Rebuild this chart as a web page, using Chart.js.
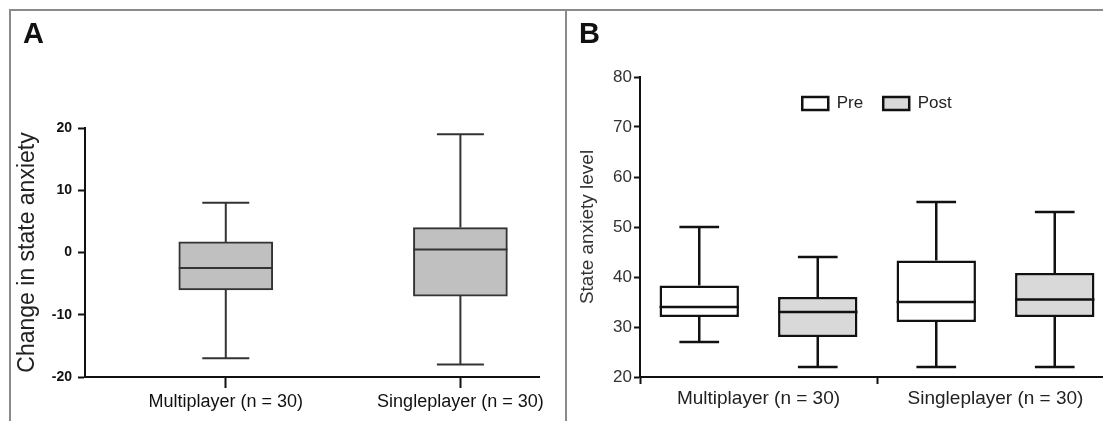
<!DOCTYPE html>
<html>
<head>
<meta charset="utf-8">
<script src="https://cdn.jsdelivr.net/npm/chart.js@4.4.0/dist/chart.umd.min.js"></script>
<style>
  html, body { margin: 0; padding: 0; background: #fff; overflow: hidden; width: 1103px; height: 421px; }
  .frame { position: absolute; left: 9px; top: 9px; width: 1200px; height: 420px; border-top: 2px solid #8a8a8a; border-left: 2px solid #8a8a8a; }
  .divider { position: absolute; left: 565px; top: 9px; width: 2px; height: 420px; background: #8a8a8a; }
  .panel-label { position: absolute; font: bold 29px Arial, "Liberation Sans", sans-serif; color: #111; line-height: 1; }
  #wrapA { position: absolute; left: 11px; top: 11px; width: 554px; height: 410px; }
  #wrapB { position: absolute; left: 567px; top: 11px; width: 560px; height: 410px; }
</style>
</head>
<body>
<div class="frame"></div>
<div class="divider"></div>
<div id="wrapA"><canvas id="chartA" width="554" height="410"></canvas></div>
<div id="wrapB"><canvas id="chartB" width="560" height="410"></canvas></div>
<div class="panel-label" style="left:23px; top:19px;">A</div>
<div class="panel-label" style="left:579px; top:19px;">B</div>
<script>
// Panel A: change in state anxiety (post - pre)
const categoriesA = ['Multiplayer (n = 30)', 'Singleplayer (n = 30)'];
const minA = [-17, -18];
const q1A = [-6, -7];
const medianA = [-2.5, 0.5];
const q3A = [1.7, 4];
const maxA = [8, 19];

// Panel B: state anxiety level, pre and post
const categoriesB = ['Multiplayer (n = 30)', 'Singleplayer (n = 30)'];
const preMin = [27, 22];
const preQ1 = [32, 31];
const preMedian = [34, 35];
const preQ3 = [38.3, 43.3];
const preMax = [50, 55];
const postMin = [22, 22];
const postQ1 = [28, 32];
const postMedian = [33, 35.5];
const postQ3 = [36, 40.8];
const postMax = [44, 53];

const yTicksA = [-20, -10, 0, 10, 20];
const yTicksB = [20, 30, 40, 50, 60, 70, 80];

// draws median, whiskers and caps on top of the floating bars (the boxes)
const boxLines = {
  id: 'boxLines',
  afterDatasetsDraw(chart) {
    const ctx = chart.ctx;
    const y = chart.scales.y;
    chart.data.datasets.forEach((ds, di) => {
      const meta = chart.getDatasetMeta(di);
      if (!ds.stats || meta.hidden) return;
      ctx.save();
      ctx.strokeStyle = ds.borderColor;
      ctx.lineWidth = ds.borderWidth;
      meta.data.forEach((bar, i) => {
        const half = bar.width / 2;
        const cap = half / 2;
        const range = Array.isArray(ds.data[i]) ? ds.data[i] : ds.data[i].y;
        const yMin = y.getPixelForValue(ds.stats.min[i]);
        const yMax = y.getPixelForValue(ds.stats.max[i]);
        const yMed = y.getPixelForValue(ds.stats.median[i]);
        const yQ1 = y.getPixelForValue(range[0]);
        const yQ3 = y.getPixelForValue(range[1]);
        ctx.beginPath();
        ctx.moveTo(bar.x - half, yMed); ctx.lineTo(bar.x + half, yMed);
        ctx.moveTo(bar.x, yQ3); ctx.lineTo(bar.x, yMax);
        ctx.moveTo(bar.x - cap, yMax); ctx.lineTo(bar.x + cap, yMax);
        ctx.moveTo(bar.x, yQ1); ctx.lineTo(bar.x, yMin);
        ctx.moveTo(bar.x - cap, yMin); ctx.lineTo(bar.x + cap, yMin);
        ctx.stroke();
      });
      ctx.restore();
    });
  }
};

// the legend sits inside the plot, below the top of the y axis
const legendInside = {
  id: 'legendInside',
  afterLayout(chart, args, opts) {
    const l = chart.legend;
    if (!l) return;
    const dy = opts.top - l.top;
    l.top += dy;
    l.bottom += dy;
  }
};

const ctxA = document.getElementById('chartA').getContext('2d');
new Chart(ctxA, {
  type: 'bar',
  data: {
    datasets: [{
      label: 'Change',
      data: q1A.map((v, i) => ({ x: i + 1, y: [v, q3A[i]] })),
      stats: { min: minA, median: medianA, max: maxA },
      backgroundColor: '#c0c0c0',
      borderColor: '#333333',
      borderWidth: 2,
      borderSkipped: false,
      barThickness: 94
    }]
  },
  options: {
    responsive: false,
    animation: false,
    layout: { padding: { top: 117, right: 26, left: 0, bottom: 0 } },
    plugins: { legend: { display: false }, tooltip: { enabled: false } },
    scales: {
      x: {
        type: 'linear',
        offset: false,
        min: 0.4,
        max: 2.335,
        afterBuildTicks: (s) => { s.ticks = categoriesA.map((c, i) => ({ value: i + 1 })); },
        afterFit: (s) => { s.height = 44; },
        ticks: {
          callback: (v) => categoriesA[v - 1],
          autoSkip: false,
          maxRotation: 0,
          padding: 3,
          color: '#111',
          font: { family: 'Arial, "Liberation Sans", sans-serif', size: 18 }
        },
        grid: { drawOnChartArea: false, offset: false, tickLength: 11, tickWidth: 2, tickColor: '#111' },
        border: { color: '#111', width: 2 }
      },
      y: {
        min: -20,
        max: 20,
        afterBuildTicks: (s) => { s.ticks = yTicksA.map(v => ({ value: v })); },
        afterFit: (s) => { s.width = 74; },
        ticks: {
          padding: 6,
          color: '#111',
          font: { family: 'Arial, "Liberation Sans", sans-serif', size: 14, weight: 'bold' }
        },
        grid: { drawOnChartArea: false, tickLength: 7, tickWidth: 2, tickColor: '#111' },
        border: { color: '#111', width: 2 },
        title: {
          display: true,
          text: 'Change in state anxiety',
          color: '#222',
          padding: { top: 3, bottom: 0 },
          font: { family: 'Arial, "Liberation Sans", sans-serif', size: 23 }
        }
      }
    }
  },
  plugins: [boxLines]
});

const ctxB = document.getElementById('chartB').getContext('2d');
new Chart(ctxB, {
  type: 'bar',
  data: {
    labels: categoriesB,
    datasets: [{
      label: 'Pre',
      data: preQ1.map((v, i) => [v, preQ3[i]]),
      stats: { min: preMin, median: preMedian, max: preMax },
      backgroundColor: '#ffffff',
      borderColor: '#111111',
      borderWidth: 2.5,
      borderSkipped: false
    }, {
      label: 'Post',
      data: postQ1.map((v, i) => [v, postQ3[i]]),
      stats: { min: postMin, median: postMedian, max: postMax },
      backgroundColor: '#d9d9d9',
      borderColor: '#111111',
      borderWidth: 2.5,
      borderSkipped: false
    }]
  },
  options: {
    responsive: false,
    animation: false,
    categoryPercentage: 1.0,
    barPercentage: 0.67,
    layout: { padding: { top: 19, right: 13, left: 0, bottom: 0 } },
    plugins: {
      tooltip: { enabled: false },
      legendInside: { top: 64 },
      legend: {
        position: 'top',
        align: 'center',
        fullSize: false,
        labels: {
          boxWidth: 26,
          boxHeight: 13,
          padding: 20,
          color: '#222',
          font: { family: 'Arial, "Liberation Sans", sans-serif', size: 17 }
        }
      }
    },
    scales: {
      x: {
        afterFit: (s) => { s.height = 44; },
        ticks: {
          padding: 3,
          color: '#222',
          maxRotation: 0,
          font: { family: 'Arial, "Liberation Sans", sans-serif', size: 19 }
        },
        grid: { drawOnChartArea: false, offset: true, tickLength: 7, tickWidth: 2, tickColor: '#111' },
        border: { color: '#111', width: 2 }
      },
      y: {
        min: 20,
        max: 80,
        afterBuildTicks: (s) => { s.ticks = yTicksB.map(v => ({ value: v })); },
        afterFit: (s) => { s.width = 73; },
        ticks: {
          padding: 2,
          color: '#333',
          font: { family: 'Arial, "Liberation Sans", sans-serif', size: 17 }
        },
        grid: { drawOnChartArea: false, tickLength: 6, tickWidth: 2, tickColor: '#111' },
        border: { color: '#111', width: 2 },
        title: {
          display: true,
          text: 'State anxiety level',
          color: '#333',
          padding: { top: 9, bottom: 0 },
          font: { family: 'Arial, "Liberation Sans", sans-serif', size: 19 }
        }
      }
    }
  },
  plugins: [boxLines, legendInside]
});
</script>
</body>
</html>
